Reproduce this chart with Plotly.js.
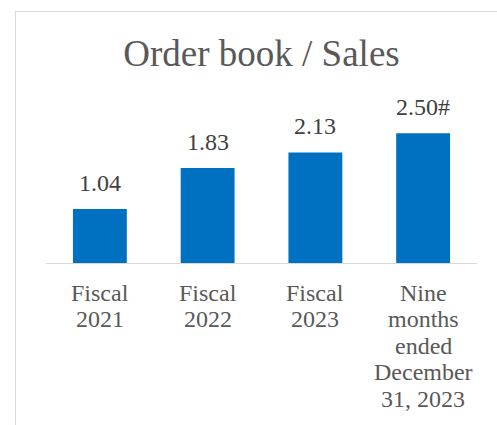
<!DOCTYPE html>
<html><head><meta charset="utf-8">
<script src="https://cdn.plot.ly/plotly-3.0.1.min.js"></script>
<style>
html,body{margin:0;padding:0;background:#fff;overflow:hidden}
#wrap{position:relative;width:497px;height:425px}
#chart{position:absolute;left:0;top:0;width:497px;height:425px}
#frame{position:absolute;left:15px;top:11px;width:490px;height:420px;border-left:1px solid #d9d9d9;border-top:1px solid #d9d9d9;pointer-events:none}
</style></head><body>
<div id="wrap"><div id="chart"></div><div id="frame"></div></div>
<script>
const categories = ["Fiscal 2021", "Fiscal 2022", "Fiscal 2023", "Nine months ended December 31, 2023"];
const tickLines = [["Fiscal", "2021"], ["Fiscal", "2022"], ["Fiscal", "2023"], ["Nine", "months", "ended", "December", "31, 2023"]];
const values = [1.04, 1.83, 2.13, 2.50];
const valueLabels = ["1.04", "1.83", "2.13", "2.50#"];

const FONT = "'Liberation Serif', 'Times New Roman', Times, serif";
const annotations = [];
categories.forEach((c, i) => {
  annotations.push({
    x: c, y: values[i], xref: "x", yref: "y",
    text: valueLabels[i], showarrow: false,
    yanchor: "bottom", xanchor: "center", yshift: 11,
    font: {family: FONT, size: 24, color: "#404040"}
  });
  tickLines[i].forEach((ln, j) => {
    annotations.push({
      x: c, y: 0, xref: "x", yref: "paper",
      text: ln, showarrow: false,
      yanchor: "top", xanchor: "center", yshift: -14.6 - 26.5 * j,
      font: {family: FONT, size: 24, color: "#595959"}
    });
  });
});

Plotly.newPlot("chart", [{
  type: "bar", x: categories, y: values,
  marker: {color: "#0070c0", line: {width: 0}},
  hoverinfo: "none"
}], {
  width: 497, height: 425,
  font: {family: FONT},
  margin: {l: 46, r: 20, t: 80, b: 162},
  paper_bgcolor: "rgba(0,0,0,0)", plot_bgcolor: "rgba(0,0,0,0)",
  bargap: 0.5,
  showlegend: false,
  title: {text: "Order book / Sales", x: 0.5, xref: "paper", xanchor: "center",
          y: 1 - 66/425, yref: "container", yanchor: "bottom",
          font: {family: FONT, size: 37, color: "#595959"}},
  xaxis: {type: "category", showticklabels: false, ticks: "", showgrid: false,
          showline: true, linecolor: "#d9d9d9", linewidth: 1, zeroline: false},
  yaxis: {range: [0, 183/51.9], visible: false, showgrid: false, zeroline: false},
  annotations: annotations
}, {displayModeBar: false, staticPlot: true});
</script></body></html>
